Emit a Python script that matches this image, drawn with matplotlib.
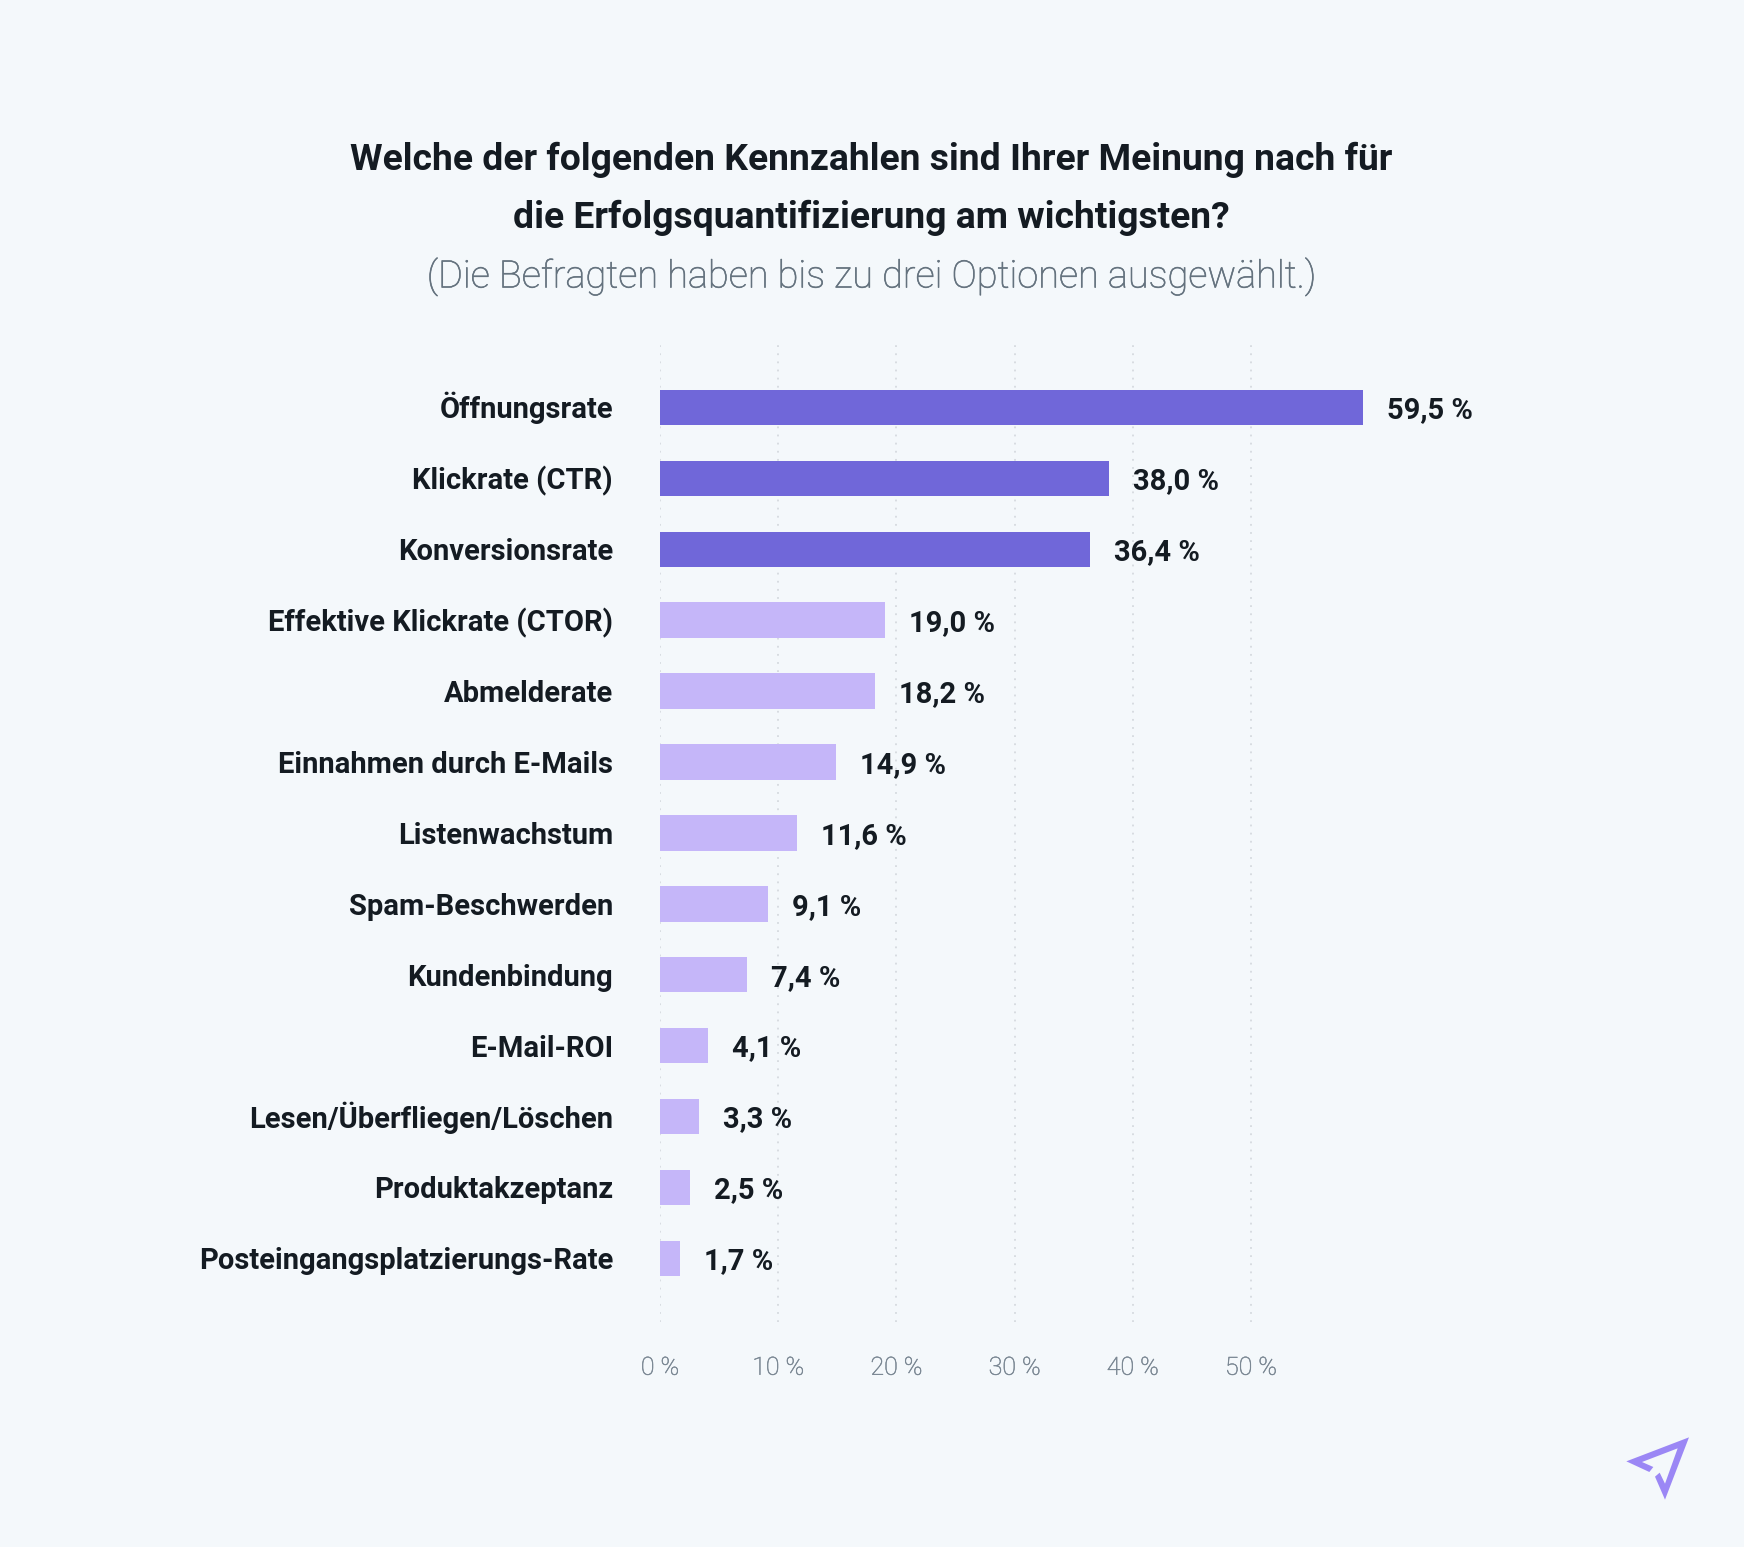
import matplotlib
matplotlib.use("Agg")
import matplotlib.pyplot as plt
import matplotlib.patheffects as pe
from matplotlib.patches import Polygon

W, H = 1744, 1547
categories = ["Öffnungsrate", "Klickrate (CTR)", "Konversionsrate", "Effektive Klickrate (CTOR)",
              "Abmelderate", "Einnahmen durch E-Mails", "Listenwachstum", "Spam-Beschwerden",
              "Kundenbindung", "E-Mail-ROI", "Lesen/Überfliegen/Löschen", "Produktakzeptanz",
              "Posteingangsplatzierungs-Rate"]
values = [59.5, 38.0, 36.4, 19.0, 18.2, 14.9, 11.6, 9.1, 7.4, 4.1, 3.3, 2.5, 1.7]
value_labels = ["59,5 %", "38,0 %", "36,4 %", "19,0 %", "18,2 %", "14,9 %", "11,6 %",
                "9,1 %", "7,4 %", "4,1 %", "3,3 %", "2,5 %", "1,7 %"]
ticks = [0, 10, 20, 30, 40, 50]
tick_labels = ["0 %", "10 %", "20 %", "30 %", "40 %", "50 %"]
highlight_count = 3

BG = "#F4F8FB"
DARK = "#7067D9"
LIGHT = "#C5B6F9"
TEXT = "#141B22"
SUB = "#64727E"
TICK = "#7A8793"
LOGO = "#9B87F5"

plt.rcParams['font.family'] = ['Roboto', 'DejaVu Sans']
fig = plt.figure(figsize=(W/100, H/100), dpi=100, facecolor=BG)

left, right, top, bottom = 660, 1560, 342, 1322
ax = fig.add_axes([left/W, 1-bottom/H, (right-left)/W, (bottom-top)/H], facecolor="none")
ppu = 118.2 / 10
ax.set_xlim(0, (right-left)/ppu)
step = 70.9
ax.set_ylim((bottom-407.5)/step, (top-407.5)/step)

for t in ticks:
    ax.axvline(t, color="#D5DADF", lw=1.3, ls=(0, (1, 3.5)), zorder=0)

colors = [DARK if i < highlight_count else LIGHT for i in range(len(values))]
ax.barh(range(len(values)), values, height=35.5/step, color=colors, zorder=2)

px = 72 / 100
for i, (c, v, l) in enumerate(zip(categories, values, value_labels)):
    ax.annotate(c, (0, i), xytext=(-47*px, -11*px), textcoords="offset points", ha="right", va="baseline",
                fontsize=21, fontweight="bold", color=TEXT)
    ax.annotate(l, (v, i), xytext=(24*px, -11*px), textcoords="offset points", ha="left", va="baseline",
                fontsize=21, fontweight="bold", color=TEXT)

for s in ax.spines.values():
    s.set_visible(False)
ax.set_yticks([])
ax.set_xticks(ticks)
ax.set_xticklabels(tick_labels, fontsize=18, color=TICK, fontweight="light",
                   path_effects=[pe.withStroke(linewidth=0.35, foreground=TICK)])
ax.tick_params(axis="x", length=0, pad=24.3)

fig.text(871/W, 1-170/H, "Welche der folgenden Kennzahlen sind Ihrer Meinung nach für", ha="center", va="baseline",
         fontsize=26.87, fontweight="bold", color=TEXT)
fig.text(871/W, 1-227.5/H, "die Erfolgsquantifizierung am wichtigsten?", ha="center", va="baseline",
         fontsize=26.87, fontweight="bold", color=TEXT)
fig.text(871.5/W, 1-287.5/H, "(Die Befragten haben bis zu drei Optionen ausgewählt.)", ha="center", va="baseline",
         fontsize=27.3, fontweight="light", color=SUB,
         path_effects=[pe.withStroke(linewidth=0.4, foreground=SUB)])

zoom_pts = [(387,112),(199,184),(268,216),(280,201),(246,186),(353,145),(315,251),(299,218),(285,230),(315,299)]
pts = [((1560+x/3)/W, 1-(1400+y/3)/H) for x, y in zoom_pts]
fig.add_artist(Polygon(pts, closed=True, transform=fig.transFigure, facecolor=LOGO, edgecolor="none"))

fig.savefig("out.png", dpi=100, facecolor=BG)
